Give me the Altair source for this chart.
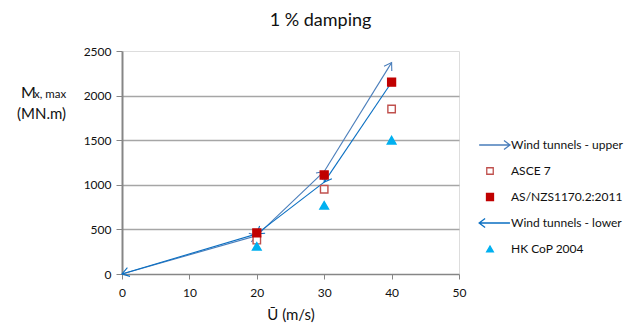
import math
import altair as alt
import pandas as pd

# ---- data ----
speeds = [20, 30, 40]
asce7 = [380, 950, 1850]
asnzs = [460, 1110, 2150]
hkcop = [310, 770, 1500]

upper_u = [0, 20, 30, 40]
upper_m = [0, 430, 1150, 2370]
lower_u = [40, 30, 20, 0]
lower_m = [2150, 1030, 450, 0]

series_names = ["Wind tunnels - upper", "ASCE 7", "AS/NZS1170.2:2011",
                "Wind tunnels - lower", "HK CoP 2004"]
x_ticks = [0, 10, 20, 30, 40, 50]
y_ticks = [0, 500, 1000, 1500, 2000, 2500]

# ---- layout / style ----
W, H = 337, 223
X_MAX, Y_MAX = 50, 2500
FONT = "Lato"
UP_COL = "#4A7EBB"
LOW_COL = "#0A6FC2"
HEAD = "M -2 -1.3 L 0 0 L -2 1.3"
ARROW_R = "M -3.1 0 L 5.7 0 M 4.0 -1.3 L 5.7 0 L 4.0 1.3"
ARROW_L = "M 5.7 0 L -3.1 0 M -1.4 -1.3 L -3.1 0 L -1.4 1.3"
SHAPES = [ARROW_R, "square", "square", ARROW_L, "triangle-up"]
STROKES = [UP_COL, "#C0504D", "#C00000", LOW_COL, "#00B0F0"]
FILLS = ["transparent", "white", "#C00000", "transparent", "#00B0F0"]
PLOT_SIZES = [49, 75, 90, 49, 150]
LEG_SIZES = [49, 42, 49, 49, 45]
LEG_X, LEG_Y0, LEG_DY, LEG_LABEL_DX = 368, 94, 26, 21


def segments(u, m):
    rows = []
    for i in range(len(u) - 1):
        dx = (u[i + 1] - u[i]) * W / X_MAX
        dy = -(m[i + 1] - m[i]) * H / Y_MAX
        ang = math.degrees(math.atan2(dy, dx)) % 360
        rows.append(dict(u=u[i], m=m[i], u_end=u[i + 1], m_end=m[i + 1], angle=ang))
    return pd.DataFrame(rows)


up_df = segments(upper_u, upper_m)
low_df = segments(lower_u, lower_m)

mk_rows = []
for name, vals in [("ASCE 7", asce7), ("AS/NZS1170.2:2011", asnzs), ("HK CoP 2004", hkcop)]:
    for s, v in zip(speeds, vals):
        mk_rows.append(dict(series=name, u=s, m=v))
mk_df = pd.DataFrame(mk_rows)

xs = alt.Scale(domain=[0, X_MAX], nice=False, zero=True)
ys = alt.Scale(domain=[0, Y_MAX], nice=False, zero=True)

xax = alt.Axis(values=x_ticks, grid=False, title="Ū (m/s)", titleFont=FONT,
               titleFontSize=15, titleFontWeight="normal", titleColor="#111",
               titlePadding=9, labelFont=FONT, labelFontSize=12, labelColor="#111",
               labelPadding=8, tickSize=5, tickColor="#868686",
               domainColor="#868686", domainWidth=1.5, labelFlush=False)
yax = alt.Axis(values=y_ticks, format="d", title=None, labelFont=FONT, labelFontSize=12,
               labelColor="#111", labelPadding=5, tickSize=6, tickColor="#868686",
               domainColor="#868686", domainWidth=2, gridColor="#A6A6A6",
               gridWidth=1.3,
               gridOpacity=alt.condition("datum.value >= 2500 || datum.value <= 0",
                                         alt.value(0), alt.value(1)))


def X(f):
    return alt.X(f, type="quantitative", scale=xs, axis=xax)


def Y(f):
    return alt.Y(f, type="quantitative", scale=ys, axis=yax)


def arrow_layers(df, col):
    lines = alt.Chart(df).mark_rule(color=col, strokeWidth=1.1).encode(
        x=X("u"), y=Y("m"), x2="u_end", y2="m_end")
    heads = alt.Chart(df).mark_point(shape=HEAD, size=49, filled=False, color=col,
                                     strokeWidth=1.1, opacity=1).encode(
        x=X("u_end"), y=Y("m_end"), angle=alt.Angle("angle:Q", scale=None))
    return [lines, heads]


def sc(rng):
    return alt.Scale(domain=series_names, range=rng)


markers = alt.Chart(mk_df).mark_point(opacity=1, strokeWidth=1.4).encode(
    x=X("u"), y=Y("m"),
    shape=alt.Shape("series:N", legend=None, scale=sc(SHAPES)),
    stroke=alt.Stroke("series:N", legend=None, scale=sc(STROKES)),
    fill=alt.Fill("series:N", legend=None, scale=sc(FILLS)),
    size=alt.Size("series:N", legend=None, scale=sc(PLOT_SIZES)),
)

# manual legend, laid out from the layout constants above
legend_layers = []
for i, name in enumerate(series_names):
    ly = LEG_Y0 + LEG_DY * i
    row = alt.Chart(pd.DataFrame({"series": [name]}))
    legend_layers.append(row.mark_point(
        shape=SHAPES[i], stroke=STROKES[i], fill=FILLS[i], size=LEG_SIZES[i],
        opacity=1, strokeWidth=1.3, filled=True).encode(
        x=alt.value(LEG_X), y=alt.value(ly)))
    legend_layers.append(row.mark_text(
        align="left", baseline="middle", font=FONT, fontSize=12, color="#111").encode(
        x=alt.value(LEG_X + LEG_LABEL_DX), y=alt.value(ly), text="series:N"))

ytitle_m = alt.Chart(pd.DataFrame({"t": ["M"]})).mark_text(
    align="left", baseline="alphabetic", font=FONT, fontSize=16, color="#111").encode(
    x=alt.value(-101), y=alt.value(47), text="t:N")
ytitle_sub = alt.Chart(pd.DataFrame({"t": ["x, max"]})).mark_text(
    align="left", baseline="alphabetic", font=FONT, fontSize=11.5, color="#111").encode(
    x=alt.value(-88), y=alt.value(47), text="t:N")
ytitle_unit = alt.Chart(pd.DataFrame({"t": ["(MN.m)"]})).mark_text(
    align="left", baseline="alphabetic", font=FONT, fontSize=15, color="#111").encode(
    x=alt.value(-105), y=alt.value(68), text="t:N")

layers = arrow_layers(up_df, UP_COL) + arrow_layers(low_df, LOW_COL) + \
    [markers] + legend_layers + [ytitle_m, ytitle_sub, ytitle_unit]

chart = alt.layer(*layers).properties(
    width=W, height=H,
    title=alt.TitleParams("1 % damping", font=FONT, fontSize=18, fontWeight="normal",
                          color="#111", anchor="middle", dx=30, offset=15),
    autosize=alt.AutoSizeParams(type="none"),
    padding={"left": 114, "top": 43, "right": 167, "bottom": 49},
).configure_view(stroke="#6D8FC4", strokeWidth=1.3).configure(background="white")

chart.save("out.html", embed_options={"renderer": "svg", "actions": False})
